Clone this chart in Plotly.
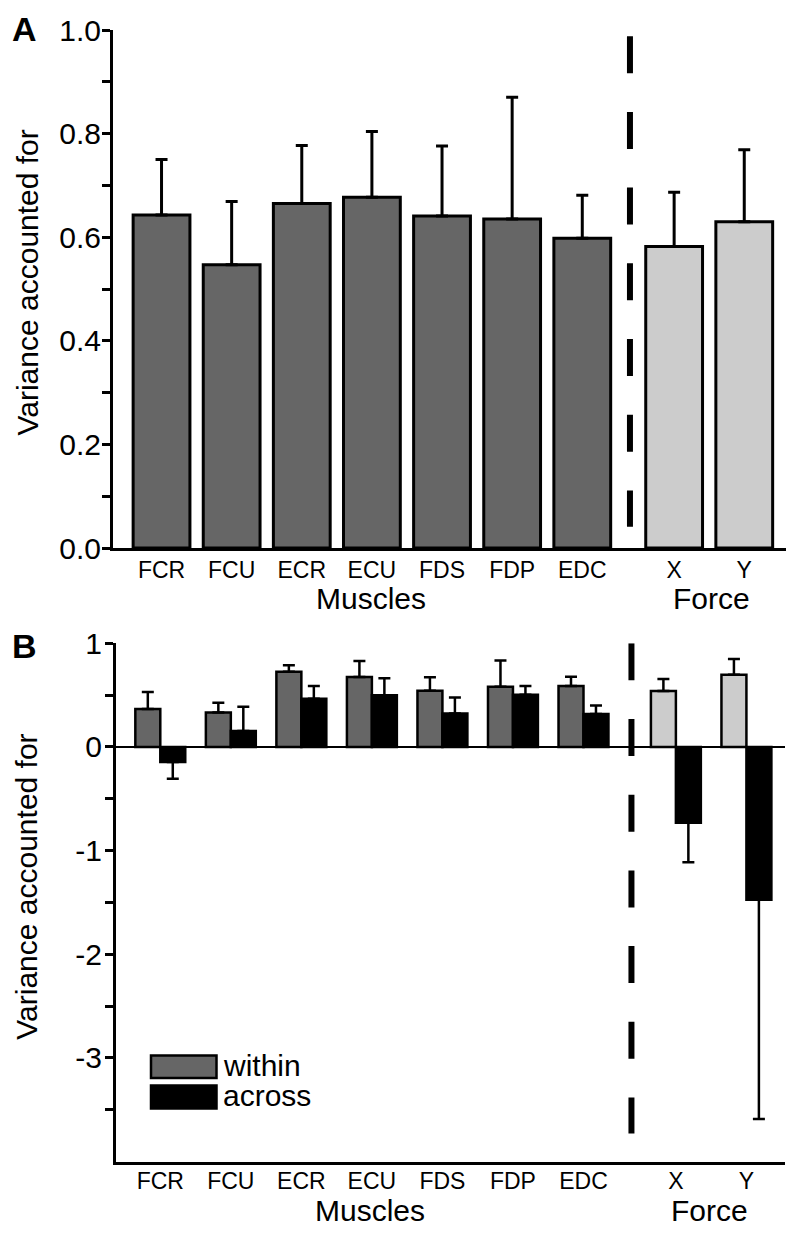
import plotly.graph_objects as go

# ---------------- data ----------------
muscles = ["FCR", "FCU", "ECR", "ECU", "FDS", "FDP", "EDC"]
forces = ["X", "Y"]
categories = muscles + forces

# Panel A: variance accounted for (mean, +SD)
vaf_a = [0.643, 0.547, 0.665, 0.677, 0.641, 0.635, 0.598, 0.582, 0.630]
err_a = [0.107, 0.122, 0.112, 0.127, 0.135, 0.235, 0.083, 0.105, 0.139]

# Panel B: within vs across
within_b = [0.365, 0.333, 0.726, 0.675, 0.542, 0.581, 0.588, 0.539, 0.697]
within_err_b = [0.165, 0.093, 0.062, 0.155, 0.130, 0.252, 0.090, 0.116, 0.152]
across_b = [-0.145, 0.155, 0.465, 0.498, 0.323, 0.503, 0.319, -0.732, -1.474]
across_err_b = [0.161, 0.232, 0.123, 0.164, 0.155, 0.085, 0.081, 0.381, 2.116]

y_tickvals_a = [0.0, 0.2, 0.4, 0.6, 0.8, 1.0]
y_ticktext_a = ["0.0", "0.2", "0.4", "0.6", "0.8", "1.0"]
y_minor_a = [0.1, 0.3, 0.5, 0.7, 0.9]
y_tickvals_b = [-3, -2, -1, 0, 1]
y_ticktext_b = ["-3", "-2", "-1", "0", "1"]
y_minor_b = [-3.5, -2.5, -1.5, -0.5, 0.5]

# ---------------- layout helpers ----------------
PAGE_W, PAGE_H = 794, 1235
OFF = 8  # page body margin
W, H = PAGE_W - OFF, PAGE_H - OFF

def px(x):
    return max(0.0, (x - OFF) / W)

def py(y):
    return 1 - (y - OFF) / H

DARK = "#666666"
LIGHT = "#cccccc"
FONT = "Liberation Sans, Arial, Helvetica, sans-serif"

n_m = len(muscles)
x_pos = list(range(n_m)) + [n_m + 0.31 + k for k in range(len(forces))]
bar_colors = [DARK] * n_m + [LIGHT] * len(forces)
sep_x = n_m - 0.32

fig = go.Figure()

# Panel A bars
fig.add_trace(go.Bar(
    x=x_pos, y=vaf_a, width=0.81,
    marker=dict(color=bar_colors, line=dict(color="black", width=3)),
    error_y=dict(type="data", symmetric=False, array=err_a,
                 arrayminus=[0] * len(err_a), color="black", thickness=3, width=6),
    xaxis="x", yaxis="y", showlegend=False, name="VAF",
))

# Panel B bars
fig.add_trace(go.Bar(
    x=x_pos, y=within_b, width=0.354, offset=-0.354,
    marker=dict(color=bar_colors, line=dict(color="black", width=2.5)),
    error_y=dict(type="data", symmetric=False, array=within_err_b,
                 arrayminus=[0] * len(within_err_b), color="black", thickness=2.5, width=6),
    xaxis="x2", yaxis="y2", showlegend=False, name="within",
))
fig.add_trace(go.Bar(
    x=x_pos, y=across_b, width=0.354, offset=0,
    marker=dict(color="black", line=dict(color="black", width=2.5)),
    error_y=dict(type="data", symmetric=False,
                 array=[e if v >= 0 else 0 for v, e in zip(across_b, across_err_b)],
                 arrayminus=[e if v < 0 else 0 for v, e in zip(across_b, across_err_b)],
                 color="black", thickness=2.5, width=6),
    xaxis="x2", yaxis="y2", showlegend=False, name="across",
))

axis_common = dict(showgrid=False, zeroline=False, showline=True,
                   linecolor="black", linewidth=3, mirror=False, automargin=False)

fig.update_layout(
    width=W, height=H, autosize=False,
    margin=dict(l=0, r=0, t=0, b=0, pad=0, autoexpand=False),
    paper_bgcolor="white", plot_bgcolor="white",
    font=dict(family=FONT, color="black"),
    barmode="overlay",
    xaxis=dict(domain=[px(113), px(793)], range=[-0.692, 9.005], anchor="y",
               tickvals=x_pos, ticktext=categories, ticks="",
               tickfont=dict(size=23, family=FONT), ticklabelstandoff=-1,
               **axis_common),
    yaxis=dict(domain=[py(548), py(30)], range=[0, 1], anchor="x",
               tickvals=y_tickvals_a, ticktext=y_ticktext_a,
               ticks="outside", ticklen=8, tickwidth=2.5, tickcolor="black",
               minor=dict(tickvals=y_minor_a, ticks="outside", ticklen=8,
                          tickwidth=2.5, tickcolor="black"),
               tickfont=dict(size=30, family=FONT), ticklabelstandoff=-5,
               **axis_common),
    xaxis2=dict(domain=[px(116), px(785)], range=[-0.628, 8.857], anchor="y2",
                tickvals=x_pos, ticktext=categories, ticks="",
                tickfont=dict(size=23, family=FONT), ticklabelstandoff=-3,
                **axis_common),
    yaxis2=dict(domain=[py(1161.5), py(643.3)], range=[-4, 1], anchor="x2",
                tickvals=y_tickvals_b, ticktext=y_ticktext_b,
                ticks="outside", ticklen=8, tickwidth=2.5, tickcolor="black",
                minor=dict(tickvals=y_minor_b, ticks="outside", ticklen=8,
                           tickwidth=2.5, tickcolor="black"),
                tickfont=dict(size=30, family=FONT), ticklabelstandoff=-3,
                showgrid=False, showline=True, linecolor="black", linewidth=3,
                automargin=False,
                zeroline=True, zerolinecolor="black", zerolinewidth=2),
)

# dashed separators
fig.add_shape(type="line", xref="x", yref="y", x0=sep_x, x1=sep_x, y0=0.988, y1=0.041,
              line=dict(color="black", width=6, dash="37px,38.7px"))
fig.add_shape(type="line", xref="x2", yref="y2", x0=sep_x, x1=sep_x, y0=1.0, y1=-3.73,
              line=dict(color="black", width=6, dash="37px,38.7px"))

# legend (manual)
fig.add_shape(type="rect", xref="paper", yref="paper",
              x0=px(151), x1=px(216.5), y0=py(1078), y1=py(1055.5),
              fillcolor=DARK, line=dict(color="black", width=2.5))
fig.add_shape(type="rect", xref="paper", yref="paper",
              x0=px(151), x1=px(216.5), y0=py(1108.5), y1=py(1085.5),
              fillcolor="black", line=dict(color="black", width=2.5))

annotations = [
    dict(text="<b>A</b>", x=px(10), y=py(29), xanchor="left", yanchor="middle", font=dict(size=34)),
    dict(text="<b>B</b>", x=px(10), y=py(646), xanchor="left", yanchor="middle", font=dict(size=34)),
    dict(text="Variance accounted for", x=px(27), y=py(282.5), textangle=-90,
         xanchor="center", yanchor="middle", font=dict(size=30)),
    dict(text="Variance accounted for", x=px(27), y=py(886.7), textangle=-90,
         xanchor="center", yanchor="middle", font=dict(size=30)),
    dict(text="Muscles", x=px(371), y=py(598), xanchor="center", yanchor="middle", font=dict(size=30)),
    dict(text="Force", x=px(711), y=py(598), xanchor="center", yanchor="middle", font=dict(size=30)),
    dict(text="Muscles", x=px(370), y=py(1210), xanchor="center", yanchor="middle", font=dict(size=30)),
    dict(text="Force", x=px(709), y=py(1210), xanchor="center", yanchor="middle", font=dict(size=30)),
    dict(text="within", x=px(221), y=py(1065), xanchor="left", yanchor="middle", font=dict(size=30)),
    dict(text="across", x=px(221), y=py(1095), xanchor="left", yanchor="middle", font=dict(size=30)),
]
for a in annotations:
    a.update(xref="paper", yref="paper", showarrow=False)
    a["font"] = dict(family=FONT, color="black", **a["font"])
fig.update_layout(annotations=annotations)

fig.write_html("out.html")
